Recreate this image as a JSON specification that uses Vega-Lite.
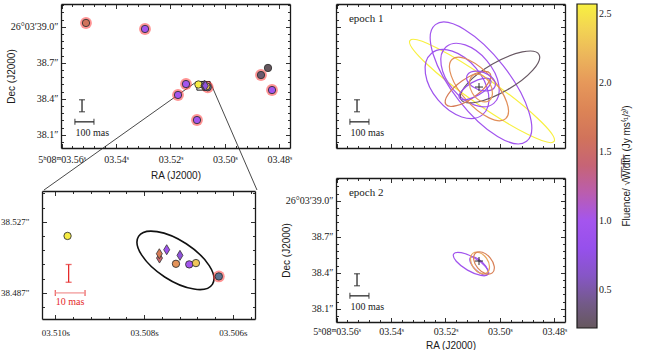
{
"$schema": "https://vega.github.io/schema/vega-lite/v6.json",
"padding": {"left": 0, "top": 0, "right": 0, "bottom": 0},
"background": "white",
"datasets": {
 "field": [
  {"ra": 3.55102, "dec": 39.032, "fl": 1.6, "halo": true},
  {"ra": 3.52935, "dec": 38.982, "fl": 1.0, "halo": true},
  {"ra": 3.51723, "dec": 38.432, "fl": 0.98, "halo": true},
  {"ra": 3.5143, "dec": 38.523, "fl": 0.98, "halo": true},
  {"ra": 3.51026, "dec": 38.223, "fl": 0.98, "halo": true},
  {"ra": 3.48675, "dec": 38.598, "fl": 0.3, "halo": true},
  {"ra": 3.48418, "dec": 38.657, "fl": 0.22, "halo": false},
  {"ra": 3.48271, "dec": 38.473, "fl": 0.98, "halo": true}
 ],
 "cluster": [
  {"ra": 3.509724, "dec": 38.51908, "fl": 2.55, "mk": "o", "kind": "frb"},
  {"ra": 3.507652, "dec": 38.50663, "fl": 1.45, "mk": "d", "kind": "frb"},
  {"ra": 3.507656, "dec": 38.50906, "fl": 1.7, "mk": "d", "kind": "frb"},
  {"ra": 3.50749, "dec": 38.51132, "fl": 0.9, "mk": "d", "kind": "frb"},
  {"ra": 3.507191, "dec": 38.50815, "fl": 0.7, "mk": "d", "kind": "frb"},
  {"ra": 3.507281, "dec": 38.5034, "fl": 1.95, "mk": "o", "kind": "frb"},
  {"ra": 3.506982, "dec": 38.50306, "fl": 1.0, "mk": "o", "kind": "frb"},
  {"ra": 3.506831, "dec": 38.5038, "fl": 2.3, "mk": "o", "kind": "frb"},
  {"ra": 3.506315, "dec": 38.49627, "mk": "o", "kind": "ps"}
 ],
 "cell": [{"ra": 3.507292, "dec": 38.50533, "a": 24.8, "q": 0.45, "pa": 33}],
 "inset": [{"ra": 3.5103, "ra2": 3.5055, "dec": 38.4723, "dec2": 38.5444}],
 "conn": [
  {"ra": 3.5103, "dec": 38.5444, "ra2": 3.56644, "dec2": 37.64},
  {"ra": 3.5055, "dec": 38.5444, "ra2": 3.48822, "dec2": 37.64}
 ],
 "sbar": [
  {"o": "v", "ra": 3.55248, "dec": 38.292, "dec2": 38.392},
  {"o": "h", "ra": 3.5551, "ra2": 3.5481, "dec": 38.208}
 ],
 "sbarlab": [{"ra": 3.5549, "dec": 38.117, "t": "100 mas"}],
 "rbar": [
  {"o": "v", "ra": 3.5097, "dec": 38.493, "dec2": 38.503},
  {"o": "h", "ra": 3.51, "ra2": 3.50933, "dec": 38.487}
 ],
 "rbarlab": [{"ra": 3.50967, "dec": 38.4819, "t": "10 mas"}],
 "ep1": [{"ra": 3.55543, "dec": 39.065, "t": "epoch 1"}],
 "ep2": [{"ra": 3.55543, "dec": 39.065, "t": "epoch 2"}],
 "cross": [{"ra": 3.50768, "dec": 38.498}],
 "ell1": [
  {"ra": 3.50658, "dec": 38.465, "a": 733, "q": 0.15, "pa": 35, "fl": 2.57},
  {"ra": 3.50695, "dec": 38.532, "a": 617, "q": 0.38, "pa": 52, "fl": 0.95},
  {"ra": 3.51576, "dec": 38.523, "a": 333, "q": 0.62, "pa": 50, "fl": 0.92},
  {"ra": 3.51099, "dec": 38.598, "a": 308, "q": 0.6, "pa": 50, "fl": 1.0},
  {"ra": 3.49997, "dec": 38.582, "a": 375, "q": 0.33, "pa": -30, "fl": 0.25},
  {"ra": 3.50769, "dec": 38.482, "a": 333, "q": 0.42, "pa": 48, "fl": 1.9},
  {"ra": 3.51172, "dec": 38.482, "a": 225, "q": 0.37, "pa": -35, "fl": 1.7},
  {"ra": 3.50695, "dec": 38.548, "a": 125, "q": 0.6, "pa": 20, "fl": 0.9},
  {"ra": 3.50915, "dec": 38.482, "a": 150, "q": 0.39, "pa": -30, "fl": 0.85},
  {"ra": 3.50695, "dec": 38.49, "a": 125, "q": 0.67, "pa": 60, "fl": 2.0}
 ],
 "ell2": [
  {"ra": 3.51062, "dec": 38.473, "a": 167, "q": 0.35, "pa": 30, "fl": 0.95},
  {"ra": 3.50769, "dec": 38.457, "a": 100, "q": 0.42, "pa": 45, "fl": 0.9},
  {"ra": 3.50732, "dec": 38.482, "a": 100, "q": 0.67, "pa": 55, "fl": 2.1},
  {"ra": 3.50585, "dec": 38.482, "a": 108, "q": 0.62, "pa": 50, "fl": 1.75}
 ]
},
"hconcat": [
 {
  "vconcat": [
   {"hconcat": [
   {"width": 1, "height": 1, "data": {"values": []}, "mark": {"type": "point", "opacity": 0}, "encoding": {}},
   {
    "width": 229, "height": 144,
    "resolve": {"axis": {"x": "independent", "y": "independent"}},
    "layer": [
     {"data": {"name": "field"}, "mark": {"type": "point", "opacity": 0},
      "encoding": {
       "x": {"field": "ra", "type": "quantitative", "scale": {"domain": [3.4761, 3.5602], "reverse": true, "zero": false, "nice": false},
             "axis": {"orient": "top", "values": [3.48, 3.484, 3.488, 3.492, 3.496, 3.5, 3.504, 3.508, 3.512, 3.516, 3.52, 3.524, 3.528, 3.532, 3.536, 3.54, 3.544, 3.548, 3.552, 3.556, 3.56], "labels": false, "title": null,
                      "tickSize": {"condition": {"test": "abs(datum.value*50-round(datum.value*50))<0.01", "value": -4.5}, "value": -2.5}}},
       "y": {"field": "dec", "type": "quantitative", "scale": {"domain": [37.99, 39.19], "zero": false, "nice": false},
             "axis": {"orient": "right", "values": [38.04, 38.1, 38.16, 38.22, 38.28, 38.34, 38.4, 38.46, 38.52, 38.58, 38.64, 38.7, 38.76, 38.82, 38.88, 38.94, 39.0, 39.06, 39.12, 39.18], "labels": false, "title": null,
                      "tickSize": {"condition": {"test": "abs(datum.value/0.3-round(datum.value/0.3))<0.01", "value": -4.5}, "value": -2.5}}}
      }},
     {"data": {"name": "conn"}, "mark": {"type": "rule", "color": "#1a1a1a", "strokeWidth": 0.8},
      "encoding": {
       "x": {"field": "ra", "type": "quantitative", "scale": {"domain": [3.4761, 3.5602], "reverse": true, "zero": false, "nice": false},
             "axis": {"orient": "bottom", "values": [3.48, 3.484, 3.488, 3.492, 3.496, 3.5, 3.504, 3.508, 3.512, 3.516, 3.52, 3.524, 3.528, 3.532, 3.536, 3.54, 3.544, 3.548, 3.552, 3.556, 3.56],
                      "labelExpr": "abs(datum.value*50-round(datum.value*50))<0.01 ? (datum.value>3.555 ? '5ʰ08ᵐ03.56ˢ' : '0'+format(datum.value,'.2f')+'ˢ') : ''",
                      "labelPadding": 10.5, "title": "RA (J2000)", "titlePadding": 4,
                      "tickSize": {"condition": {"test": "abs(datum.value*50-round(datum.value*50))<0.01", "value": -4.5}, "value": -2.5}}},
       "y": {"field": "dec", "type": "quantitative", "scale": {"domain": [37.99, 39.19], "zero": false, "nice": false},
             "axis": {"orient": "left", "values": [38.04, 38.1, 38.16, 38.22, 38.28, 38.34, 38.4, 38.46, 38.52, 38.58, 38.64, 38.7, 38.76, 38.82, 38.88, 38.94, 39.0, 39.06, 39.12, 39.18],
                      "labelExpr": "abs(datum.value/0.3-round(datum.value/0.3))<0.01 ? (datum.value>38.95 ? '26°03′39.0″' : format(datum.value,'.1f')+'″') : ''",
                      "labelPadding": 7.5, "title": "Dec (J2000)", "titleX": -45,
                      "tickSize": {"condition": {"test": "abs(datum.value/0.3-round(datum.value/0.3))<0.01", "value": -4.5}, "value": -2.5}}},
       "x2": {"field": "ra2"}, "y2": {"field": "dec2"}
      }},
     {"data": {"name": "inset"}, "mark": {"type": "rect", "filled": false, "color": "#1a1a1a", "strokeWidth": 1},
      "encoding": {
       "x": {"field": "ra", "type": "quantitative", "scale": {"domain": [3.4761, 3.5602], "reverse": true, "zero": false, "nice": false}, "axis": null},
       "x2": {"field": "ra2"},
       "y": {"field": "dec", "type": "quantitative", "scale": {"domain": [37.99, 39.19], "zero": false, "nice": false}, "axis": null},
       "y2": {"field": "dec2"}
      }},
     {"data": {"name": "field"}, "transform": [{"filter": "datum.halo"}],
      "mark": {"type": "point", "shape": "circle", "filled": true, "size": 140, "color": "#ff3c3c", "opacity": 0.55, "strokeWidth": 0},
      "encoding": {
       "x": {"field": "ra", "type": "quantitative", "scale": {"domain": [3.4761, 3.5602], "reverse": true, "zero": false, "nice": false}, "axis": null},
       "y": {"field": "dec", "type": "quantitative", "scale": {"domain": [37.99, 39.19], "zero": false, "nice": false}, "axis": null}
      }},
     {"data": {"name": "field"},
      "mark": {"type": "point", "shape": "circle", "filled": true, "size": 54, "stroke": "#333333", "strokeWidth": 0.9, "opacity": 1},
      "encoding": {
       "x": {"field": "ra", "type": "quantitative", "scale": {"domain": [3.4761, 3.5602], "reverse": true, "zero": false, "nice": false}, "axis": null},
       "y": {"field": "dec", "type": "quantitative", "scale": {"domain": [37.99, 39.19], "zero": false, "nice": false}, "axis": null},
       "color": {"field": "fl", "type": "quantitative",
                 "scale": {"domain": [0.225, 0.35, 0.5, 0.64, 0.8, 1.0, 1.1, 1.22, 1.36, 1.5, 1.65, 1.8, 2.0, 2.16, 2.3, 2.45, 2.57], "range": ["#66585e", "#6e5a78", "#7c5aa8", "#8a55d0", "#9650ec", "#a455ee", "#b05ad0", "#bc5ea8", "#c4627e", "#cc6a62", "#d47858", "#dc8456", "#e6985a", "#eab05c", "#f0c65a", "#f4dc50", "#f8f040"], "clamp": true, "interpolate": "rgb"},
                 "legend": {"type": "gradient", "title": "Fluence/ √W̅i̅d̅t̅h̅ (Jy ms⁽¹/²⁾)", "values": [0.5, 1, 1.5, 2, 2.5], "format": ".1f", "titleOrient": "right", "titleAnchor": "middle", "titlePadding": 10, "titleBaseline": "top",
                            "encoding": {"title": {"angle": {"value": 270}}}}}
      }},
     {"data": {"name": "cluster"}, "transform": [{"filter": "datum.kind=='ps'"}],
      "mark": {"type": "point", "shape": "circle", "filled": true, "size": 140, "color": "#ff3c3c", "opacity": 0.55, "strokeWidth": 0},
      "encoding": {
       "x": {"field": "ra", "type": "quantitative", "scale": {"domain": [3.4761, 3.5602], "reverse": true, "zero": false, "nice": false}, "axis": null},
       "y": {"field": "dec", "type": "quantitative", "scale": {"domain": [37.99, 39.19], "zero": false, "nice": false}, "axis": null}
      }},
     {"data": {"name": "cluster"}, "transform": [{"filter": "datum.kind=='ps'"}],
      "mark": {"type": "point", "shape": "circle", "filled": true, "size": 54, "fill": "#5b7391", "stroke": "#333333", "strokeWidth": 0.9, "opacity": 1},
      "encoding": {
       "x": {"field": "ra", "type": "quantitative", "scale": {"domain": [3.4761, 3.5602], "reverse": true, "zero": false, "nice": false}, "axis": null},
       "y": {"field": "dec", "type": "quantitative", "scale": {"domain": [37.99, 39.19], "zero": false, "nice": false}, "axis": null}
      }},
     {"data": {"name": "cluster"}, "transform": [{"filter": "datum.kind=='frb' && datum.mk=='o'"}],
      "mark": {"type": "point", "shape": "circle", "filled": true, "size": 54, "stroke": "#333333", "strokeWidth": 0.9, "opacity": 1},
      "encoding": {
       "x": {"field": "ra", "type": "quantitative", "scale": {"domain": [3.4761, 3.5602], "reverse": true, "zero": false, "nice": false}, "axis": null},
       "y": {"field": "dec", "type": "quantitative", "scale": {"domain": [37.99, 39.19], "zero": false, "nice": false}, "axis": null},
       "color": {"field": "fl", "type": "quantitative", "legend": null,
                 "scale": {"domain": [0.225, 0.35, 0.5, 0.64, 0.8, 1.0, 1.1, 1.22, 1.36, 1.5, 1.65, 1.8, 2.0, 2.16, 2.3, 2.45, 2.57], "range": ["#66585e", "#6e5a78", "#7c5aa8", "#8a55d0", "#9650ec", "#a455ee", "#b05ad0", "#bc5ea8", "#c4627e", "#cc6a62", "#d47858", "#dc8456", "#e6985a", "#eab05c", "#f0c65a", "#f4dc50", "#f8f040"], "clamp": true, "interpolate": "rgb"}}
      }},
     {"data": {"name": "cluster"}, "transform": [{"filter": "datum.mk=='d'"}],
      "mark": {"type": "point", "shape": "M0,-1L0.6,0L0,1L-0.6,0Z", "filled": true, "size": 100, "stroke": "#333333", "strokeWidth": 0.8, "opacity": 1},
      "encoding": {
       "x": {"field": "ra", "type": "quantitative", "scale": {"domain": [3.4761, 3.5602], "reverse": true, "zero": false, "nice": false}, "axis": null},
       "y": {"field": "dec", "type": "quantitative", "scale": {"domain": [37.99, 39.19], "zero": false, "nice": false}, "axis": null},
       "color": {"field": "fl", "type": "quantitative", "legend": null,
                 "scale": {"domain": [0.225, 0.35, 0.5, 0.64, 0.8, 1.0, 1.1, 1.22, 1.36, 1.5, 1.65, 1.8, 2.0, 2.16, 2.3, 2.45, 2.57], "range": ["#66585e", "#6e5a78", "#7c5aa8", "#8a55d0", "#9650ec", "#a455ee", "#b05ad0", "#bc5ea8", "#c4627e", "#cc6a62", "#d47858", "#dc8456", "#e6985a", "#eab05c", "#f0c65a", "#f4dc50", "#f8f040"], "clamp": true, "interpolate": "rgb"}}
      }},
     {"data": {"name": "sbar"}, "transform": [{"filter": "datum.o=='v'"}],
      "mark": {"type": "errorbar", "ticks": true, "size": 6, "thickness": 1.3, "color": "#2a2a2a"},
      "encoding": {
       "x": {"field": "ra", "type": "quantitative", "scale": {"domain": [3.4761, 3.5602], "reverse": true, "zero": false, "nice": false}, "axis": null},
       "y": {"field": "dec", "type": "quantitative", "scale": {"domain": [37.99, 39.19], "zero": false, "nice": false}, "axis": null},
       "y2": {"field": "dec2"}
      }},
     {"data": {"name": "sbar"}, "transform": [{"filter": "datum.o=='h'"}],
      "mark": {"type": "errorbar", "ticks": true, "size": 6, "thickness": 1.3, "color": "#2a2a2a"},
      "encoding": {
       "x": {"field": "ra", "type": "quantitative", "scale": {"domain": [3.4761, 3.5602], "reverse": true, "zero": false, "nice": false}, "axis": null},
       "x2": {"field": "ra2"},
       "y": {"field": "dec", "type": "quantitative", "scale": {"domain": [37.99, 39.19], "zero": false, "nice": false}, "axis": null}
      }},
     {"data": {"name": "sbarlab"},
      "mark": {"type": "text", "align": "left", "baseline": "middle", "font": "Liberation Serif", "fontSize": 10, "color": "#1a1a1a"},
      "encoding": {
       "x": {"field": "ra", "type": "quantitative", "scale": {"domain": [3.4761, 3.5602], "reverse": true, "zero": false, "nice": false}, "axis": null},
       "y": {"field": "dec", "type": "quantitative", "scale": {"domain": [37.99, 39.19], "zero": false, "nice": false}, "axis": null},
       "text": {"field": "t"}
      }}
    ]
   }
   ], "spacing": -38},
   {
    "width": 213, "height": 128,
    "resolve": {"axis": {"x": "independent", "y": "independent"}},
    "layer": [
     {"data": {"name": "cluster"}, "mark": {"type": "point", "opacity": 0},
      "encoding": {
       "x": {"field": "ra", "type": "quantitative", "scale": {"domain": [3.5055, 3.5103], "reverse": true, "zero": false, "nice": false},
             "axis": {"orient": "top", "values": [3.5056, 3.506, 3.5064, 3.5068, 3.5072, 3.5076, 3.508, 3.5084, 3.5088, 3.5092, 3.5096, 3.51], "labels": false, "title": null,
                      "tickSize": {"condition": {"test": "abs(datum.value*500-round(datum.value*500))<0.01", "value": -4.5}, "value": -2.5}}},
       "y": {"field": "dec", "type": "quantitative", "scale": {"domain": [38.4723, 38.5444], "zero": false, "nice": false},
             "axis": {"orient": "right", "values": [38.479, 38.487, 38.495, 38.503, 38.511, 38.519, 38.527, 38.535, 38.543], "labels": false, "title": null,
                      "tickSize": {"condition": {"test": "abs((datum.value-38.487)/0.04-round((datum.value-38.487)/0.04))<0.01", "value": -4.5}, "value": -2.5}}}
      }},
     {"data": {"name": "cell"}, "mark": {"type": "point", "filled": false, "strokeWidth": 1.6, "color": "#111111", "opacity": 1},
      "encoding": {
       "x": {"field": "ra", "type": "quantitative", "scale": {"domain": [3.5055, 3.5103], "reverse": true, "zero": false, "nice": false},
             "axis": {"orient": "bottom", "values": [3.5056, 3.506, 3.5064, 3.5068, 3.5072, 3.5076, 3.508, 3.5084, 3.5088, 3.5092, 3.5096, 3.51],
                      "labelExpr": "abs(datum.value*500-round(datum.value*500))<0.01 ? '0'+format(datum.value,'.3f')+'s' : ''",
                      "labelPadding": 13.5, "labelFontSize": 9, "title": null,
                      "tickSize": {"condition": {"test": "abs(datum.value*500-round(datum.value*500))<0.01", "value": -4.5}, "value": -2.5}}},
       "y": {"field": "dec", "type": "quantitative", "scale": {"domain": [38.4723, 38.5444], "zero": false, "nice": false},
             "axis": {"orient": "left", "values": [38.479, 38.487, 38.495, 38.503, 38.511, 38.519, 38.527, 38.535, 38.543],
                      "labelExpr": "abs((datum.value-38.487)/0.04-round((datum.value-38.487)/0.04))<0.01 ? format(datum.value,'.3f')+'\"' : ''",
                      "labelPadding": 17.5, "labelFontSize": 9, "title": null,
                      "tickSize": {"condition": {"test": "abs((datum.value-38.487)/0.04-round((datum.value-38.487)/0.04))<0.01", "value": -4.5}, "value": -2.5}}},
       "size": {"field": "a", "type": "quantitative", "scale": {"type": "pow", "exponent": 2, "domain": [0, 50], "range": [0, 31506]}, "legend": null},
       "shape": {"field": "q", "type": "nominal", "legend": null,
                 "scale": {"domain": [0.15, 0.33, 0.35, 0.37, 0.38, 0.39, 0.42, 0.45, 0.6, 0.62, 0.67],
                           "range": ["M-1,0A1,0.15,0,0,1,1,0A1,0.15,0,0,1,-1,0Z", "M-1,0A1,0.33,0,0,1,1,0A1,0.33,0,0,1,-1,0Z", "M-1,0A1,0.35,0,0,1,1,0A1,0.35,0,0,1,-1,0Z", "M-1,0A1,0.37,0,0,1,1,0A1,0.37,0,0,1,-1,0Z", "M-1,0A1,0.38,0,0,1,1,0A1,0.38,0,0,1,-1,0Z", "M-1,0A1,0.39,0,0,1,1,0A1,0.39,0,0,1,-1,0Z", "M-1,0A1,0.42,0,0,1,1,0A1,0.42,0,0,1,-1,0Z", "M-1,0A1,0.45,0,0,1,1,0A1,0.45,0,0,1,-1,0Z", "M-1,0A1,0.6,0,0,1,1,0A1,0.6,0,0,1,-1,0Z", "M-1,0A1,0.62,0,0,1,1,0A1,0.62,0,0,1,-1,0Z", "M-1,0A1,0.67,0,0,1,1,0A1,0.67,0,0,1,-1,0Z"]}},
       "angle": {"field": "pa", "type": "quantitative", "scale": null}
      }},
     {"data": {"name": "cluster"}, "transform": [{"filter": "datum.kind=='ps'"}],
      "mark": {"type": "point", "shape": "circle", "filled": true, "size": 140, "color": "#ff3c3c", "opacity": 0.55, "strokeWidth": 0},
      "encoding": {
       "x": {"field": "ra", "type": "quantitative", "scale": {"domain": [3.5055, 3.5103], "reverse": true, "zero": false, "nice": false}, "axis": null},
       "y": {"field": "dec", "type": "quantitative", "scale": {"domain": [38.4723, 38.5444], "zero": false, "nice": false}, "axis": null}
      }},
     {"data": {"name": "cluster"}, "transform": [{"filter": "datum.kind=='ps'"}],
      "mark": {"type": "point", "shape": "circle", "filled": true, "size": 54, "fill": "#5b7391", "stroke": "#333333", "strokeWidth": 0.9, "opacity": 1},
      "encoding": {
       "x": {"field": "ra", "type": "quantitative", "scale": {"domain": [3.5055, 3.5103], "reverse": true, "zero": false, "nice": false}, "axis": null},
       "y": {"field": "dec", "type": "quantitative", "scale": {"domain": [38.4723, 38.5444], "zero": false, "nice": false}, "axis": null}
      }},
     {"data": {"name": "cluster"}, "transform": [{"filter": "datum.kind=='frb' && datum.mk=='o'"}],
      "mark": {"type": "point", "shape": "circle", "filled": true, "size": 54, "stroke": "#333333", "strokeWidth": 0.9, "opacity": 1},
      "encoding": {
       "x": {"field": "ra", "type": "quantitative", "scale": {"domain": [3.5055, 3.5103], "reverse": true, "zero": false, "nice": false}, "axis": null},
       "y": {"field": "dec", "type": "quantitative", "scale": {"domain": [38.4723, 38.5444], "zero": false, "nice": false}, "axis": null},
       "color": {"field": "fl", "type": "quantitative", "legend": null,
                 "scale": {"domain": [0.225, 0.35, 0.5, 0.64, 0.8, 1.0, 1.1, 1.22, 1.36, 1.5, 1.65, 1.8, 2.0, 2.16, 2.3, 2.45, 2.57], "range": ["#66585e", "#6e5a78", "#7c5aa8", "#8a55d0", "#9650ec", "#a455ee", "#b05ad0", "#bc5ea8", "#c4627e", "#cc6a62", "#d47858", "#dc8456", "#e6985a", "#eab05c", "#f0c65a", "#f4dc50", "#f8f040"], "clamp": true, "interpolate": "rgb"}}
      }},
     {"data": {"name": "cluster"}, "transform": [{"filter": "datum.mk=='d'"}],
      "mark": {"type": "point", "shape": "M0,-1L0.6,0L0,1L-0.6,0Z", "filled": true, "size": 100, "stroke": "#333333", "strokeWidth": 0.8, "opacity": 1},
      "encoding": {
       "x": {"field": "ra", "type": "quantitative", "scale": {"domain": [3.5055, 3.5103], "reverse": true, "zero": false, "nice": false}, "axis": null},
       "y": {"field": "dec", "type": "quantitative", "scale": {"domain": [38.4723, 38.5444], "zero": false, "nice": false}, "axis": null},
       "color": {"field": "fl", "type": "quantitative", "legend": null,
                 "scale": {"domain": [0.225, 0.35, 0.5, 0.64, 0.8, 1.0, 1.1, 1.22, 1.36, 1.5, 1.65, 1.8, 2.0, 2.16, 2.3, 2.45, 2.57], "range": ["#66585e", "#6e5a78", "#7c5aa8", "#8a55d0", "#9650ec", "#a455ee", "#b05ad0", "#bc5ea8", "#c4627e", "#cc6a62", "#d47858", "#dc8456", "#e6985a", "#eab05c", "#f0c65a", "#f4dc50", "#f8f040"], "clamp": true, "interpolate": "rgb"}}
      }},
     {"data": {"name": "rbar"}, "transform": [{"filter": "datum.o=='v'"}],
      "mark": {"type": "errorbar", "ticks": true, "size": 6, "thickness": 1.3, "color": "#e52a2a"},
      "encoding": {
       "x": {"field": "ra", "type": "quantitative", "scale": {"domain": [3.5055, 3.5103], "reverse": true, "zero": false, "nice": false}, "axis": null},
       "y": {"field": "dec", "type": "quantitative", "scale": {"domain": [38.4723, 38.5444], "zero": false, "nice": false}, "axis": null},
       "y2": {"field": "dec2"}
      }},
     {"data": {"name": "rbar"}, "transform": [{"filter": "datum.o=='h'"}],
      "mark": {"type": "errorbar", "ticks": {"color": "#e52a2a"}, "rule": {"color": "#f29a9a"}, "size": 6, "thickness": 1.3, "color": "#e52a2a"},
      "encoding": {
       "x": {"field": "ra", "type": "quantitative", "scale": {"domain": [3.5055, 3.5103], "reverse": true, "zero": false, "nice": false}, "axis": null},
       "x2": {"field": "ra2"},
       "y": {"field": "dec", "type": "quantitative", "scale": {"domain": [38.4723, 38.5444], "zero": false, "nice": false}, "axis": null}
      }},
     {"data": {"name": "rbarlab"},
      "mark": {"type": "text", "align": "center", "baseline": "middle", "font": "Liberation Serif", "fontSize": 10, "color": "#e52a2a"},
      "encoding": {
       "x": {"field": "ra", "type": "quantitative", "scale": {"domain": [3.5055, 3.5103], "reverse": true, "zero": false, "nice": false}, "axis": null},
       "y": {"field": "dec", "type": "quantitative", "scale": {"domain": [38.4723, 38.5444], "zero": false, "nice": false}, "axis": null},
       "text": {"field": "t"}
      }}
    ]
   }
  ],
  "spacing": -8,
  "resolve": {"scale": {"size": "independent"}}
 },
 {
  "vconcat": [
   {
    "width": 229, "height": 144,
    "resolve": {"axis": {"x": "independent", "y": "independent"}},
    "layer": [
     {"data": {"name": "ell1"}, "mark": {"type": "point", "opacity": 0},
      "encoding": {
       "x": {"field": "ra", "type": "quantitative", "scale": {"domain": [3.4761, 3.5602], "reverse": true, "zero": false, "nice": false},
             "axis": {"orient": "top", "values": [3.48, 3.484, 3.488, 3.492, 3.496, 3.5, 3.504, 3.508, 3.512, 3.516, 3.52, 3.524, 3.528, 3.532, 3.536, 3.54, 3.544, 3.548, 3.552, 3.556, 3.56], "labels": false, "title": null,
                      "tickSize": {"condition": {"test": "abs(datum.value*50-round(datum.value*50))<0.01", "value": -4.5}, "value": -2.5}}},
       "y": {"field": "dec", "type": "quantitative", "scale": {"domain": [37.99, 39.19], "zero": false, "nice": false},
             "axis": {"orient": "right", "values": [38.04, 38.1, 38.16, 38.22, 38.28, 38.34, 38.4, 38.46, 38.52, 38.58, 38.64, 38.7, 38.76, 38.82, 38.88, 38.94, 39.0, 39.06, 39.12, 39.18], "labels": false, "title": null,
                      "tickSize": {"condition": {"test": "abs(datum.value/0.3-round(datum.value/0.3))<0.01", "value": -4.5}, "value": -2.5}}}
      }},
     {"data": {"name": "ell1"}, "mark": {"type": "point", "filled": false, "strokeWidth": 1.2, "opacity": 1},
      "encoding": {
       "x": {"field": "ra", "type": "quantitative", "scale": {"domain": [3.4761, 3.5602], "reverse": true, "zero": false, "nice": false},
             "axis": {"orient": "bottom", "values": [3.48, 3.484, 3.488, 3.492, 3.496, 3.5, 3.504, 3.508, 3.512, 3.516, 3.52, 3.524, 3.528, 3.532, 3.536, 3.54, 3.544, 3.548, 3.552, 3.556, 3.56], "labels": false, "title": null,
                      "tickSize": {"condition": {"test": "abs(datum.value*50-round(datum.value*50))<0.01", "value": -4.5}, "value": -2.5}}},
       "y": {"field": "dec", "type": "quantitative", "scale": {"domain": [37.99, 39.19], "zero": false, "nice": false},
             "axis": {"orient": "left", "values": [38.04, 38.1, 38.16, 38.22, 38.28, 38.34, 38.4, 38.46, 38.52, 38.58, 38.64, 38.7, 38.76, 38.82, 38.88, 38.94, 39.0, 39.06, 39.12, 39.18], "labels": false, "title": null,
                      "tickSize": {"condition": {"test": "abs(datum.value/0.3-round(datum.value/0.3))<0.01", "value": -4.5}, "value": -2.5}}},
       "stroke": {"field": "fl", "type": "quantitative", "legend": null,
                 "scale": {"domain": [0.2, 0.225, 0.35, 0.5, 0.64, 0.8, 1.0, 1.1, 1.22, 1.36, 1.5, 1.65, 1.8, 2.0, 2.16, 2.3, 2.45, 2.57], "range": ["#66585e", "#66585e", "#6e5a78", "#7c5aa8", "#8a55d0", "#9650ec", "#a455ee", "#b05ad0", "#bc5ea8", "#c4627e", "#cc6a62", "#d47858", "#dc8456", "#e6985a", "#eab05c", "#f0c65a", "#f4dc50", "#f8f040"], "clamp": true, "interpolate": "rgb"}},
       "size": {"field": "a", "type": "quantitative", "scale": {"type": "pow", "exponent": 2, "domain": [0, 1000], "range": [0, 57600]}, "legend": null},
       "shape": {"field": "q", "type": "nominal", "legend": null,
                 "scale": {"domain": [0.15, 0.33, 0.35, 0.37, 0.38, 0.39, 0.42, 0.45, 0.6, 0.62, 0.67],
                           "range": ["M-1,0A1,0.15,0,0,1,1,0A1,0.15,0,0,1,-1,0Z", "M-1,0A1,0.33,0,0,1,1,0A1,0.33,0,0,1,-1,0Z", "M-1,0A1,0.35,0,0,1,1,0A1,0.35,0,0,1,-1,0Z", "M-1,0A1,0.37,0,0,1,1,0A1,0.37,0,0,1,-1,0Z", "M-1,0A1,0.38,0,0,1,1,0A1,0.38,0,0,1,-1,0Z", "M-1,0A1,0.39,0,0,1,1,0A1,0.39,0,0,1,-1,0Z", "M-1,0A1,0.42,0,0,1,1,0A1,0.42,0,0,1,-1,0Z", "M-1,0A1,0.45,0,0,1,1,0A1,0.45,0,0,1,-1,0Z", "M-1,0A1,0.6,0,0,1,1,0A1,0.6,0,0,1,-1,0Z", "M-1,0A1,0.62,0,0,1,1,0A1,0.62,0,0,1,-1,0Z", "M-1,0A1,0.67,0,0,1,1,0A1,0.67,0,0,1,-1,0Z"]}},
       "angle": {"field": "pa", "type": "quantitative", "scale": null}
      }},
     {"data": {"name": "cross"}, "mark": {"type": "point", "shape": "M-1,0L1,0M0,-1L0,1", "filled": false, "size": 64, "color": "#2a2a2a", "strokeWidth": 1, "opacity": 1},
      "encoding": {
       "x": {"field": "ra", "type": "quantitative", "scale": {"domain": [3.4761, 3.5602], "reverse": true, "zero": false, "nice": false}, "axis": null},
       "y": {"field": "dec", "type": "quantitative", "scale": {"domain": [37.99, 39.19], "zero": false, "nice": false}, "axis": null}
      }},
     {"data": {"name": "sbar"}, "transform": [{"filter": "datum.o=='v'"}],
      "mark": {"type": "errorbar", "ticks": true, "size": 6, "thickness": 1.3, "color": "#2a2a2a"},
      "encoding": {
       "x": {"field": "ra", "type": "quantitative", "scale": {"domain": [3.4761, 3.5602], "reverse": true, "zero": false, "nice": false}, "axis": null},
       "y": {"field": "dec", "type": "quantitative", "scale": {"domain": [37.99, 39.19], "zero": false, "nice": false}, "axis": null},
       "y2": {"field": "dec2"}
      }},
     {"data": {"name": "sbar"}, "transform": [{"filter": "datum.o=='h'"}],
      "mark": {"type": "errorbar", "ticks": true, "size": 6, "thickness": 1.3, "color": "#2a2a2a"},
      "encoding": {
       "x": {"field": "ra", "type": "quantitative", "scale": {"domain": [3.4761, 3.5602], "reverse": true, "zero": false, "nice": false}, "axis": null},
       "x2": {"field": "ra2"},
       "y": {"field": "dec", "type": "quantitative", "scale": {"domain": [37.99, 39.19], "zero": false, "nice": false}, "axis": null}
      }},
     {"data": {"name": "sbarlab"},
      "mark": {"type": "text", "align": "left", "baseline": "middle", "font": "Liberation Serif", "fontSize": 10, "color": "#1a1a1a"},
      "encoding": {
       "x": {"field": "ra", "type": "quantitative", "scale": {"domain": [3.4761, 3.5602], "reverse": true, "zero": false, "nice": false}, "axis": null},
       "y": {"field": "dec", "type": "quantitative", "scale": {"domain": [37.99, 39.19], "zero": false, "nice": false}, "axis": null},
       "text": {"field": "t"}
      }},
     {"data": {"name": "ep1"},
      "mark": {"type": "text", "align": "left", "baseline": "middle", "font": "Liberation Serif", "fontSize": 11, "color": "#1a1a1a"},
      "encoding": {
       "x": {"field": "ra", "type": "quantitative", "scale": {"domain": [3.4761, 3.5602], "reverse": true, "zero": false, "nice": false}, "axis": null},
       "y": {"field": "dec", "type": "quantitative", "scale": {"domain": [37.99, 39.19], "zero": false, "nice": false}, "axis": null},
       "text": {"field": "t"}
      }}
    ]
   },
   {
    "width": 229, "height": 144,
    "resolve": {"axis": {"x": "independent", "y": "independent"}},
    "layer": [
     {"data": {"name": "ell2"}, "mark": {"type": "point", "opacity": 0},
      "encoding": {
       "x": {"field": "ra", "type": "quantitative", "scale": {"domain": [3.4761, 3.5602], "reverse": true, "zero": false, "nice": false},
             "axis": {"orient": "top", "values": [3.48, 3.484, 3.488, 3.492, 3.496, 3.5, 3.504, 3.508, 3.512, 3.516, 3.52, 3.524, 3.528, 3.532, 3.536, 3.54, 3.544, 3.548, 3.552, 3.556, 3.56], "labels": false, "title": null,
                      "tickSize": {"condition": {"test": "abs(datum.value*50-round(datum.value*50))<0.01", "value": -4.5}, "value": -2.5}}},
       "y": {"field": "dec", "type": "quantitative", "scale": {"domain": [37.99, 39.19], "zero": false, "nice": false},
             "axis": {"orient": "right", "values": [38.04, 38.1, 38.16, 38.22, 38.28, 38.34, 38.4, 38.46, 38.52, 38.58, 38.64, 38.7, 38.76, 38.82, 38.88, 38.94, 39.0, 39.06, 39.12, 39.18], "labels": false, "title": null,
                      "tickSize": {"condition": {"test": "abs(datum.value/0.3-round(datum.value/0.3))<0.01", "value": -4.5}, "value": -2.5}}}
      }},
     {"data": {"name": "ell2"}, "mark": {"type": "point", "filled": false, "strokeWidth": 1.2, "opacity": 1},
      "encoding": {
       "x": {"field": "ra", "type": "quantitative", "scale": {"domain": [3.4761, 3.5602], "reverse": true, "zero": false, "nice": false},
             "axis": {"orient": "bottom", "values": [3.48, 3.484, 3.488, 3.492, 3.496, 3.5, 3.504, 3.508, 3.512, 3.516, 3.52, 3.524, 3.528, 3.532, 3.536, 3.54, 3.544, 3.548, 3.552, 3.556, 3.56],
                      "labelExpr": "abs(datum.value*50-round(datum.value*50))<0.01 ? (datum.value>3.555 ? '5ʰ08ᵐ03.56ˢ' : '0'+format(datum.value,'.2f')+'ˢ') : ''",
                      "labelPadding": 8.5, "title": "RA (J2000)", "titlePadding": 2,
                      "tickSize": {"condition": {"test": "abs(datum.value*50-round(datum.value*50))<0.01", "value": -4.5}, "value": -2.5}}},
       "y": {"field": "dec", "type": "quantitative", "scale": {"domain": [37.99, 39.19], "zero": false, "nice": false},
             "axis": {"orient": "left", "values": [38.04, 38.1, 38.16, 38.22, 38.28, 38.34, 38.4, 38.46, 38.52, 38.58, 38.64, 38.7, 38.76, 38.82, 38.88, 38.94, 39.0, 39.06, 39.12, 39.18],
                      "labelExpr": "abs(datum.value/0.3-round(datum.value/0.3))<0.01 ? (datum.value>38.95 ? '26°03′39.0″' : format(datum.value,'.1f')+'″') : ''",
                      "labelPadding": 7.5, "title": "Dec (J2000)", "titleX": -45,
                      "tickSize": {"condition": {"test": "abs(datum.value/0.3-round(datum.value/0.3))<0.01", "value": -4.5}, "value": -2.5}}},
       "stroke": {"field": "fl", "type": "quantitative", "legend": null,
                 "scale": {"domain": [0.2, 0.225, 0.35, 0.5, 0.64, 0.8, 1.0, 1.1, 1.22, 1.36, 1.5, 1.65, 1.8, 2.0, 2.16, 2.3, 2.45, 2.57], "range": ["#66585e", "#66585e", "#6e5a78", "#7c5aa8", "#8a55d0", "#9650ec", "#a455ee", "#b05ad0", "#bc5ea8", "#c4627e", "#cc6a62", "#d47858", "#dc8456", "#e6985a", "#eab05c", "#f0c65a", "#f4dc50", "#f8f040"], "clamp": true, "interpolate": "rgb"}},
       "size": {"field": "a", "type": "quantitative", "scale": {"type": "pow", "exponent": 2, "domain": [0, 1000], "range": [0, 57600]}, "legend": null},
       "shape": {"field": "q", "type": "nominal", "legend": null,
                 "scale": {"domain": [0.15, 0.33, 0.35, 0.37, 0.38, 0.39, 0.42, 0.45, 0.6, 0.62, 0.67],
                           "range": ["M-1,0A1,0.15,0,0,1,1,0A1,0.15,0,0,1,-1,0Z", "M-1,0A1,0.33,0,0,1,1,0A1,0.33,0,0,1,-1,0Z", "M-1,0A1,0.35,0,0,1,1,0A1,0.35,0,0,1,-1,0Z", "M-1,0A1,0.37,0,0,1,1,0A1,0.37,0,0,1,-1,0Z", "M-1,0A1,0.38,0,0,1,1,0A1,0.38,0,0,1,-1,0Z", "M-1,0A1,0.39,0,0,1,1,0A1,0.39,0,0,1,-1,0Z", "M-1,0A1,0.42,0,0,1,1,0A1,0.42,0,0,1,-1,0Z", "M-1,0A1,0.45,0,0,1,1,0A1,0.45,0,0,1,-1,0Z", "M-1,0A1,0.6,0,0,1,1,0A1,0.6,0,0,1,-1,0Z", "M-1,0A1,0.62,0,0,1,1,0A1,0.62,0,0,1,-1,0Z", "M-1,0A1,0.67,0,0,1,1,0A1,0.67,0,0,1,-1,0Z"]}},
       "angle": {"field": "pa", "type": "quantitative", "scale": null}
      }},
     {"data": {"name": "cross"}, "mark": {"type": "point", "shape": "M-1,0L1,0M0,-1L0,1", "filled": false, "size": 64, "color": "#2a2a2a", "strokeWidth": 1, "opacity": 1},
      "encoding": {
       "x": {"field": "ra", "type": "quantitative", "scale": {"domain": [3.4761, 3.5602], "reverse": true, "zero": false, "nice": false}, "axis": null},
       "y": {"field": "dec", "type": "quantitative", "scale": {"domain": [37.99, 39.19], "zero": false, "nice": false}, "axis": null}
      }},
     {"data": {"name": "sbar"}, "transform": [{"filter": "datum.o=='v'"}],
      "mark": {"type": "errorbar", "ticks": true, "size": 6, "thickness": 1.3, "color": "#2a2a2a"},
      "encoding": {
       "x": {"field": "ra", "type": "quantitative", "scale": {"domain": [3.4761, 3.5602], "reverse": true, "zero": false, "nice": false}, "axis": null},
       "y": {"field": "dec", "type": "quantitative", "scale": {"domain": [37.99, 39.19], "zero": false, "nice": false}, "axis": null},
       "y2": {"field": "dec2"}
      }},
     {"data": {"name": "sbar"}, "transform": [{"filter": "datum.o=='h'"}],
      "mark": {"type": "errorbar", "ticks": true, "size": 6, "thickness": 1.3, "color": "#2a2a2a"},
      "encoding": {
       "x": {"field": "ra", "type": "quantitative", "scale": {"domain": [3.4761, 3.5602], "reverse": true, "zero": false, "nice": false}, "axis": null},
       "x2": {"field": "ra2"},
       "y": {"field": "dec", "type": "quantitative", "scale": {"domain": [37.99, 39.19], "zero": false, "nice": false}, "axis": null}
      }},
     {"data": {"name": "sbarlab"},
      "mark": {"type": "text", "align": "left", "baseline": "middle", "font": "Liberation Serif", "fontSize": 10, "color": "#1a1a1a"},
      "encoding": {
       "x": {"field": "ra", "type": "quantitative", "scale": {"domain": [3.4761, 3.5602], "reverse": true, "zero": false, "nice": false}, "axis": null},
       "y": {"field": "dec", "type": "quantitative", "scale": {"domain": [37.99, 39.19], "zero": false, "nice": false}, "axis": null},
       "text": {"field": "t"}
      }},
     {"data": {"name": "ep2"},
      "mark": {"type": "text", "align": "left", "baseline": "middle", "font": "Liberation Serif", "fontSize": 11, "color": "#1a1a1a"},
      "encoding": {
       "x": {"field": "ra", "type": "quantitative", "scale": {"domain": [3.4761, 3.5602], "reverse": true, "zero": false, "nice": false}, "axis": null},
       "y": {"field": "dec", "type": "quantitative", "scale": {"domain": [37.99, 39.19], "zero": false, "nice": false}, "axis": null},
       "text": {"field": "t"}
      }}
    ]
   }
  ],
  "spacing": 25,
  "resolve": {"scale": {"size": "independent"}}
 }
],
"spacing": -12,
"resolve": {"scale": {"size": "independent"}},
"config": {
 "view": {"stroke": null},
 "axis": {"grid": false, "domainColor": "#1a1a1a", "domainWidth": 1.3, "tickColor": "#1a1a1a", "tickWidth": 0.9,
          "labelFont": "Liberation Serif", "labelFontSize": 10, "labelColor": "#1a1a1a",
          "titleFont": "Liberation Sans", "titleFontSize": 10, "titleFontWeight": "normal", "titleColor": "#1a1a1a",
          "labelOverlap": false, "labelFlush": false},
 "legend": {"gradientLength": 324, "gradientThickness": 20, "gradientStrokeColor": "#1a1a1a", "gradientStrokeWidth": 1.2,
            "labelFont": "Liberation Serif", "labelFontSize": 10, "labelColor": "#1a1a1a", "labelOffset": 9,
            "titleFont": "Liberation Sans", "titleFontSize": 10, "titleFontWeight": "normal", "titleColor": "#1a1a1a",
            "offset": 10, "padding": 0, "titleLimit": 400}
}
}
